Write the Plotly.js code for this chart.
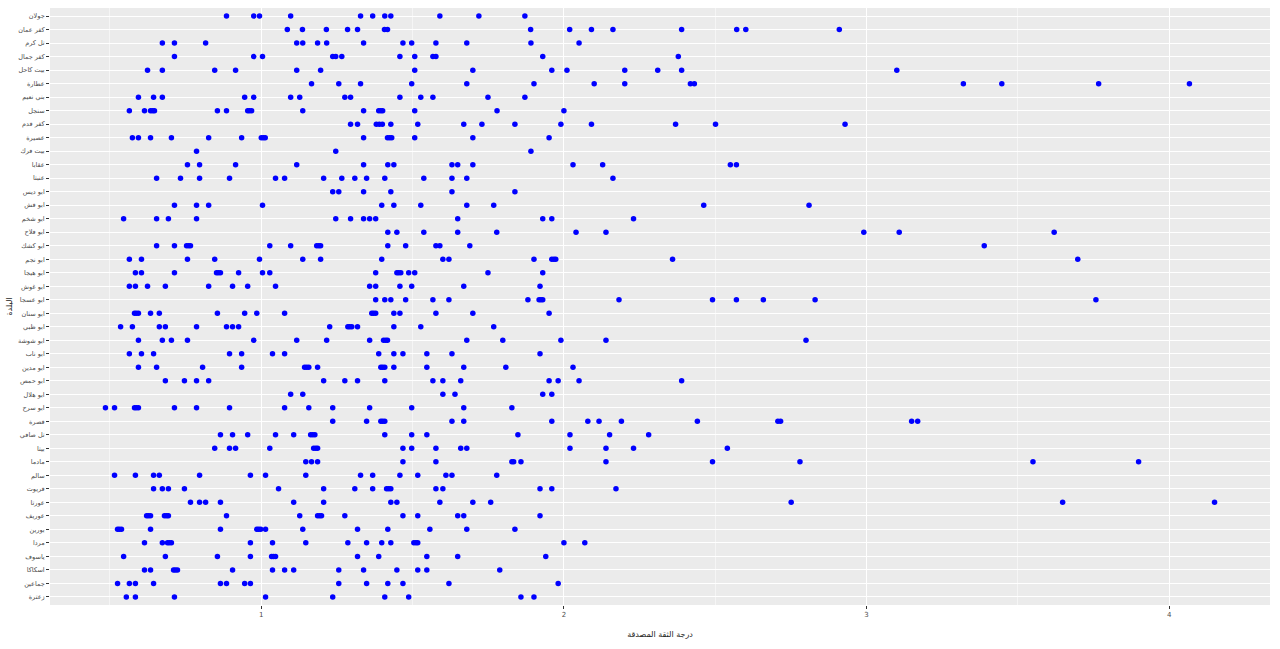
<!DOCTYPE html>
<html>
<head>
<meta charset="utf-8">
<script src="https://cdn.plot.ly/plotly-3.0.1.min.js"></script>
<style>html,body{margin:0;padding:0;background:#fff;}#chart{width:1280px;height:649px;}</style>
</head>
<body>
<div id="chart"></div>
<script>
// Categories, top to bottom
const categories = ["جولان","كفر عمان","تل كرم","كفر جمال","بيت كاحل","عطارة","بني نعيم","سنجل","كفر قدم","عصيرة","بيت فرك","عقابا","عنبتا","ابو ديس","ابو قش","ابو شخم","ابو فلاح","ابو كشك","ابو نجم","ابو هيجا","ابو غوش","ابو عسجا","ابو سنان","ابو ظبي","ابو شوشة","ابو ناب","ابو مدين","ابو حمص","ابو هلال","ابو سرح","قصرة","تل صافي","بيتا","مادما","سالم","قريوت","عورتا","عوريف","بورين","مردا","ياسوف","اسكاكا","جماعين","زعترة"];

const xTickVals = [1, 2, 3, 4];
const xTickText = ["1", "2", "3", "4"];
const xMinorVals = [0.5, 1.5, 2.5, 3.5];
const xTitle = "درجة الثقة المصدقة";
const yTitle = "البلدة";

const v00 = [0.885,0.975,0.994,1.097,1.328,1.368,1.408,1.428,1.590,1.719,1.871];
const v01 = [1.086,1.136,1.215,1.285,1.318,1.407,1.417,1.890,2.019,2.091,2.162,2.389,2.571,2.601,2.910];
const v02 = [0.673,0.713,0.816,1.117,1.137,1.186,1.216,1.338,1.468,1.497,1.577,1.679,1.891,2.050];
const v03 = [0.713,0.975,1.004,1.236,1.246,1.266,1.458,1.507,1.567,1.577,1.930,2.378];
const v04 = [0.624,0.673,0.846,0.915,1.117,1.196,1.507,1.699,1.960,2.010,2.201,2.310,2.389,3.100];
const v05 = [1.166,1.256,1.328,1.497,1.679,1.901,2.100,2.201,2.418,2.431,3.320,3.447,3.767,4.067];
const v06 = [0.594,0.644,0.673,0.945,0.975,1.097,1.127,1.276,1.295,1.458,1.527,1.567,1.749,1.871];
const v07 = [0.564,0.614,0.634,0.641,0.647,0.855,0.885,0.955,0.961,0.968,1.137,1.338,1.388,1.395,1.401,1.507,1.779,2.000];
const v08 = [1.295,1.318,1.380,1.390,1.400,1.428,1.517,1.669,1.729,1.838,1.990,2.091,2.369,2.501,2.929];
const v09 = [0.574,0.594,0.634,0.703,0.826,0.935,1.000,1.007,1.013,1.338,1.417,1.424,1.431,1.507,1.699,1.951];
const v10 = [0.786,1.246,1.891];
const v11 = [0.756,0.796,0.915,1.117,1.338,1.418,1.438,1.630,1.649,1.699,2.030,2.128,2.550,2.570];
const v12 = [0.654,0.733,0.796,0.895,1.047,1.077,1.206,1.266,1.309,1.348,1.408,1.537,1.630,1.679,2.162];
const v13 = [1.236,1.256,1.338,1.428,1.630,1.838];
const v14 = [0.713,0.786,0.826,1.004,1.398,1.438,1.527,1.679,1.768,2.462,2.810];
const v15 = [0.545,0.654,0.693,0.786,1.246,1.295,1.338,1.358,1.378,1.649,1.930,1.960,2.230];
const v16 = [1.418,1.448,1.537,1.649,1.778,2.040,2.139,2.991,3.108,3.620];
const v17 = [0.654,0.713,0.753,0.760,0.766,1.028,1.097,1.183,1.190,1.196,1.418,1.477,1.577,1.590,1.689,3.389];
const v18 = [0.564,0.604,0.756,0.846,0.994,1.137,1.196,1.398,1.600,1.620,1.901,1.960,1.967,1.973,2.359,3.698];
const v19 = [0.584,0.604,0.713,0.852,0.858,0.865,0.925,1.004,1.028,1.378,1.448,1.454,1.461,1.487,1.507,1.749,1.930];
const v20 = [0.564,0.584,0.624,0.683,0.826,0.905,0.955,1.047,1.358,1.378,1.458,1.497,1.669,1.921];
const v21 = [1.378,1.408,1.428,1.477,1.567,1.620,1.881,1.918,1.924,1.930,2.182,2.491,2.570,2.659,2.830,3.758];
const v22 = [0.581,0.587,0.594,0.634,0.663,0.855,0.945,0.985,1.077,1.365,1.371,1.378,1.438,1.458,1.577,1.699,1.951];
const v23 = [0.535,0.574,0.663,0.683,0.786,0.885,0.905,0.925,1.226,1.286,1.292,1.299,1.318,1.438,1.527,1.768];
const v24 = [0.594,0.673,0.703,0.756,0.975,1.117,1.216,1.358,1.404,1.411,1.417,1.679,1.798,1.990,2.139,2.800];
const v25 = [0.564,0.604,0.644,0.895,0.935,1.037,1.077,1.388,1.438,1.468,1.547,1.630,1.921];
const v26 = [0.594,0.654,0.806,0.935,1.143,1.150,1.157,1.186,1.395,1.401,1.408,1.438,1.547,1.669,1.808,2.030];
const v27 = [0.683,0.746,0.786,0.826,1.206,1.276,1.318,1.408,1.567,1.600,1.659,1.951,1.981,2.050,2.389];
const v28 = [1.097,1.137,1.600,1.640,1.930,1.960];
const v29 = [0.485,0.515,0.581,0.587,0.594,0.713,0.786,0.895,1.077,1.157,1.236,1.358,1.497,1.669,1.828];
const v30 = [1.236,1.348,1.395,1.401,1.408,1.630,1.669,1.960,2.079,2.116,2.190,2.441,2.707,2.716,3.149,3.169];
const v31 = [0.865,0.905,0.955,1.047,1.107,1.163,1.170,1.177,1.408,1.497,1.547,1.848,2.020,2.151,2.280];
const v32 = [0.846,0.895,0.915,1.028,1.173,1.180,1.186,1.468,1.497,1.577,1.659,1.679,2.020,2.139,2.230,2.540];
const v33 = [1.147,1.166,1.186,1.468,1.577,1.828,1.834,1.858,2.139,2.491,2.780,3.550,3.899];
const v34 = [0.515,0.584,0.644,0.663,0.796,0.964,1.014,1.147,1.328,1.368,1.458,1.517,1.610,1.630,1.778];
const v35 = [0.644,0.673,0.693,0.746,1.057,1.206,1.309,1.368,1.414,1.421,1.428,1.577,1.600,1.921,1.960,2.172];
const v36 = [0.766,0.796,0.816,0.865,1.107,1.206,1.428,1.448,1.590,1.699,1.758,2.751,3.648,4.150];
const v37 = [0.621,0.627,0.634,0.680,0.687,0.693,0.885,1.127,1.186,1.193,1.199,1.276,1.468,1.517,1.649,1.669,1.921];
const v38 = [0.525,0.531,0.538,0.634,0.865,0.985,0.991,0.998,1.014,1.137,1.318,1.418,1.557,1.679,1.838];
const v39 = [0.614,0.673,0.690,0.696,0.703,0.964,1.037,1.147,1.286,1.348,1.398,1.428,1.504,1.511,1.517,2.000,2.069];
const v40 = [0.545,0.683,0.855,0.964,1.034,1.040,1.047,1.318,1.388,1.547,1.649,1.940];
const v41 = [0.614,0.634,0.710,0.716,0.723,0.905,1.037,1.077,1.107,1.256,1.338,1.448,1.517,1.547,1.788];
const v42 = [0.525,0.564,0.584,0.644,0.865,0.885,0.945,0.964,1.256,1.348,1.418,1.468,1.620,1.981];
const v43 = [0.554,0.584,0.713,1.014,1.236,1.408,1.487,1.858,1.901];

const rowValues = [v00,v01,v02,v03,v04,v05,v06,v07,v08,v09,v10,v11,v12,v13,v14,v15,v16,v17,v18,v19,v20,v21,v22,v23,v24,v25,v26,v27,v28,v29,v30,v31,v32,v33,v34,v35,v36,v37,v38,v39,v40,v41,v42,v43];

const xs = [], ys = [];
rowValues.forEach((vals, i) => {
  vals.forEach(v => { xs.push(v); ys.push(categories[i]); });
});

// ggplot-like 5% expansion of the data range
const allMin = Math.min(...xs), allMax = Math.max(...xs);
const pad = (allMax - allMin) * 0.05;

const trace = {
  type: 'scatter', mode: 'markers',
  x: xs, y: ys,
  marker: {color: '#0000FF', size: 5.5, line: {width: 0}},
  hoverinfo: 'x+y', showlegend: false
};

const layout = {
  width: 1280, height: 649,
  margin: {l: 50, r: 10, t: 8, b: 44},
  paper_bgcolor: '#FFFFFF', plot_bgcolor: '#EBEBEB',
  font: {family: 'DejaVu Sans, sans-serif', color: '#4D4D4D', size: 7},
  xaxis: {
    range: [allMin - pad, allMax + pad],
    tickmode: 'array', tickvals: xTickVals, ticktext: xTickText,
    showgrid: true, gridcolor: '#FFFFFF', gridwidth: 1.1,
    minor: {tickmode: 'array', tickvals: xMinorVals, showgrid: true, gridcolor: '#FFFFFF', gridwidth: 0.5, ticks: ''},
    zeroline: false, showline: false,
    ticks: 'outside', ticklen: 3, tickwidth: 1, tickcolor: '#333333',
    tickfont: {size: 7, color: '#4D4D4D'},
    title: {text: xTitle, font: {size: 8, color: '#222222'}, standoff: 12}
  },
  yaxis: {
    type: 'category', categoryorder: 'array', categoryarray: categories,
    range: [categories.length - 0.4, -0.6],
    showgrid: true, gridcolor: '#FFFFFF', gridwidth: 1.1,
    zeroline: false, showline: false,
    ticks: 'outside', ticklen: 3, tickwidth: 1, tickcolor: '#333333',
    tickfont: {size: 6.5, color: '#4D4D4D'},
    title: {text: yTitle, font: {size: 8, color: '#222222'}, standoff: 4}
  }
};

Plotly.newPlot('chart', [trace], layout, {displayModeBar: false, staticPlot: true});
</script>
</body>
</html>
